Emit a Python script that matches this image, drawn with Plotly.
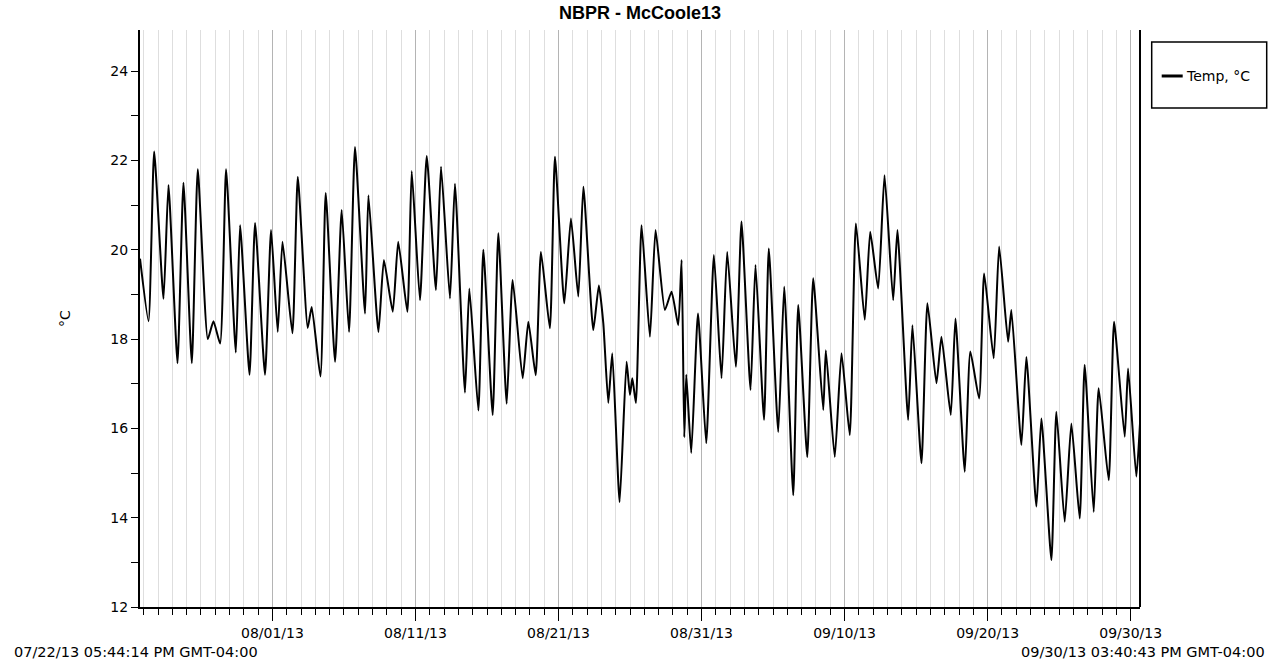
import plotly.graph_objects as go

# Logged water temperature, turning points of the daily cycle
times = [
    "2013-07-22 17:44", "2013-07-23 08:00", "2013-07-23 17:30", "2013-07-24 09:10",
    "2013-07-24 17:30", "2013-07-25 08:40", "2013-07-25 18:40", "2013-07-26 08:40",
    "2013-07-26 18:40", "2013-07-27 11:30", "2013-07-27 21:00", "2013-07-28 08:10",
    "2013-07-28 18:10", "2013-07-29 10:30", "2013-07-29 17:40", "2013-07-30 09:30",
    "2013-07-30 18:50", "2013-07-31 11:30", "2013-07-31 21:40", "2013-08-01 08:50",
    "2013-08-01 16:50", "2013-08-02 09:30", "2013-08-02 18:30", "2013-08-03 11:10",
    "2013-08-03 17:50", "2013-08-04 08:30", "2013-08-04 17:20", "2013-08-05 09:00",
    "2013-08-05 20:10", "2013-08-06 08:30", "2013-08-06 18:30", "2013-08-07 11:20",
    "2013-08-07 17:00", "2013-08-08 09:50", "2013-08-08 19:00", "2013-08-09 09:50",
    "2013-08-09 19:00", "2013-08-10 10:20", "2013-08-10 17:40", "2013-08-11 07:30",
    "2013-08-11 18:50", "2013-08-12 10:20", "2013-08-12 18:50", "2013-08-13 09:50",
    "2013-08-13 18:10", "2013-08-14 11:00", "2013-08-14 18:20", "2013-08-15 09:30",
    "2013-08-15 17:50", "2013-08-16 09:30", "2013-08-16 19:00", "2013-08-17 09:00",
    "2013-08-17 19:00", "2013-08-18 11:50", "2013-08-18 21:20", "2013-08-19 09:40",
    "2013-08-19 18:30", "2013-08-20 09:30", "2013-08-20 18:00", "2013-08-21 09:40",
    "2013-08-21 20:50", "2013-08-22 09:10", "2013-08-22 17:40", "2013-08-23 10:20",
    "2013-08-23 19:40", "2013-08-24 03:10", "2013-08-24 11:30", "2013-08-24 18:10",
    "2013-08-25 06:30", "2013-08-25 18:10", "2013-08-25 23:50", "2013-08-26 03:50",
    "2013-08-26 09:50", "2013-08-26 19:20", "2013-08-27 09:20", "2013-08-27 18:50",
    "2013-08-28 10:30", "2013-08-28 21:40", "2013-08-29 08:50", "2013-08-29 14:30",
    "2013-08-29 19:00", "2013-08-29 22:20", "2013-08-30 06:40", "2013-08-30 18:00",
    "2013-08-31 07:50", "2013-08-31 20:40", "2013-09-01 09:30", "2013-09-01 19:00",
    "2013-09-02 09:30", "2013-09-02 19:00", "2013-09-03 10:10", "2013-09-03 18:30",
    "2013-09-04 08:50", "2013-09-04 16:50", "2013-09-05 08:40", "2013-09-05 18:40",
    "2013-09-06 09:50", "2013-09-06 18:10", "2013-09-07 09:20", "2013-09-07 19:20",
    "2013-09-08 12:10", "2013-09-08 16:30", "2013-09-09 07:30", "2013-09-09 18:50",
    "2013-09-10 08:40", "2013-09-10 19:00", "2013-09-11 09:50", "2013-09-11 19:00",
    "2013-09-12 08:20", "2013-09-12 19:00", "2013-09-13 09:30", "2013-09-13 16:40",
    "2013-09-14 10:40", "2013-09-14 17:50", "2013-09-15 09:00", "2013-09-15 19:00",
    "2013-09-16 10:10", "2013-09-16 18:30", "2013-09-17 10:10", "2013-09-17 18:00",
    "2013-09-18 09:40", "2013-09-18 19:00", "2013-09-19 09:40", "2013-09-19 18:10",
    "2013-09-20 10:10", "2013-09-20 19:20", "2013-09-21 10:20", "2013-09-21 15:50",
    "2013-09-22 08:40", "2013-09-22 17:00", "2013-09-23 09:50", "2013-09-23 18:10",
    "2013-09-24 11:00", "2013-09-24 19:20", "2013-09-25 09:20", "2013-09-25 20:30",
    "2013-09-26 10:30", "2013-09-26 18:50", "2013-09-27 10:00", "2013-09-27 18:20",
    "2013-09-28 11:10", "2013-09-28 20:10", "2013-09-29 14:00", "2013-09-29 19:40",
    "2013-09-30 09:30", "2013-09-30 15:40",
]

temps = [
    19.8, 18.4, 22.2, 18.9,
    21.45, 17.46, 21.5, 17.46,
    21.8, 18.0, 18.4, 17.9,
    21.8, 17.7, 20.55, 17.2,
    20.6, 17.2, 20.44, 18.16,
    20.18, 18.13, 21.63, 18.25,
    18.72, 17.16, 21.27, 17.49,
    20.89, 18.16, 22.3, 18.57,
    21.22, 18.16, 19.77, 18.61,
    20.18, 18.61, 21.76, 18.87,
    22.1, 19.1, 21.86, 18.91,
    21.48, 16.8, 19.13, 16.4,
    20.0, 16.3, 20.37, 16.55,
    19.32, 17.12, 18.39, 17.19,
    19.95, 18.24, 22.08, 18.8,
    20.7, 18.95, 21.41, 18.2,
    19.2, 18.35, 16.57, 17.68,
    14.35, 17.49, 16.75, 17.12,
    16.57, 20.55, 18.05, 20.44,
    18.65, 19.06, 18.31, 19.77,
    15.8, 17.2, 15.45, 18.57,
    15.67, 19.88, 17.12, 19.95,
    17.38, 20.63, 16.86, 19.66,
    16.19, 20.03, 15.92, 19.17,
    14.5, 18.76, 15.36, 19.36,
    16.41, 17.75, 15.36, 17.68,
    15.85, 20.59, 18.43, 20.4,
    19.13, 21.67, 18.87, 20.44,
    16.19, 18.31, 15.22, 18.8,
    17.01, 18.05, 16.3, 18.46,
    15.03, 17.72, 16.67, 19.47,
    17.57, 20.07, 17.94, 18.65,
    15.63, 17.6, 14.25, 16.22,
    13.05, 16.37, 13.91, 16.11,
    13.98, 17.42, 14.13, 16.9,
    14.84, 18.39, 15.81, 17.34,
    14.92, 16.1,
]

title_text = "NBPR - McCoole13"
series_name = "Temp, °C"
y_title = "°C"
start_label = "07/22/13 05:44:14 PM GMT-04:00"
end_label = "09/30/13 03:40:43 PM GMT-04:00"
x_start = "2013-07-22 17:44:14"
x_end = "2013-09-30 15:40:43"

TITLE_FONT = "Liberation Sans, Arial, sans-serif"
FONT = "DejaVu Sans, Verdana, sans-serif"
DAY_MS = 86400000

fig = go.Figure()
fig.add_trace(go.Scatter(
    x=times, y=temps, mode="lines", name=series_name,
    line=dict(color="black", width=2, shape="spline", smoothing=0.5),
    showlegend=False,
))

fig.update_layout(
    width=1280, height=663,
    margin=dict(l=140, r=140, t=30, b=56, autoexpand=False),
    paper_bgcolor="white", plot_bgcolor="white",
    font=dict(family=FONT, size=13, color="black"),
    title=dict(text="<b>" + title_text + "</b>", x=0.5, xanchor="center",
               yref="container", y=0.981, yanchor="middle",
               font=dict(size=18, family=TITLE_FONT)),
    xaxis=dict(
        type="date", range=[x_start, x_end],
        tick0="2013-08-01", dtick=10 * DAY_MS, tickformat="%m/%d/%y",
        ticks="outside", ticklen=12, tickcolor="black", tickwidth=1,
        showgrid=True, gridcolor="#b4b4b4", gridwidth=1,
        showline=True, linecolor="black", linewidth=2,
        zeroline=False, automargin=False,
        tickfont=dict(size=14),
        minor=dict(dtick=DAY_MS, tick0="2013-08-01", ticks="outside",
                   ticklen=6, tickcolor="black", showgrid=True,
                   gridcolor="#dedede", gridwidth=1),
    ),
    yaxis=dict(
        range=[12, 24.92], dtick=2, tick0=12,
        ticks="outside", ticklen=7, tickcolor="black",
        showgrid=False, zeroline=False,
        showline=True, linecolor="black", linewidth=2,
        automargin=False, tickfont=dict(size=14),
        minor=dict(dtick=1, ticks="outside", ticklen=7, tickcolor="black",
                   showgrid=False),
        title=dict(text=y_title, standoff=36, font=dict(size=14)),
    ),
)

# right-hand border of the plotting area
fig.add_shape(type="line", xref="paper", yref="paper", x0=1, x1=1, y0=0, y1=1,
              line=dict(color="black", width=2))

# legend box
fig.add_shape(type="rect", xref="paper", yref="paper",
              x0=1.0117, x1=1.1267, y0=0.8648, y1=0.9792,
              line=dict(color="black", width=1.5), fillcolor="white")
fig.add_shape(type="line", xref="paper", yref="paper",
              x0=1.0217, x1=1.0427, y0=0.9203, y1=0.9203,
              line=dict(color="black", width=3))
fig.add_annotation(text=series_name, xref="paper", yref="paper",
                   x=1.0435, y=0.9203, xanchor="left", yanchor="middle",
                   showarrow=False, font=dict(size=14))

# first and last logged timestamps under the axis
fig.add_annotation(text=start_label, xref="paper", yref="paper",
                   x=-0.128, y=-0.078, xanchor="left", yanchor="middle",
                   showarrow=False, font=dict(size=14.5))
fig.add_annotation(text=end_label, xref="paper", yref="paper",
                   x=1.127, y=-0.078, xanchor="right", yanchor="middle",
                   showarrow=False, font=dict(size=14.5))

fig.write_html("out.html")
